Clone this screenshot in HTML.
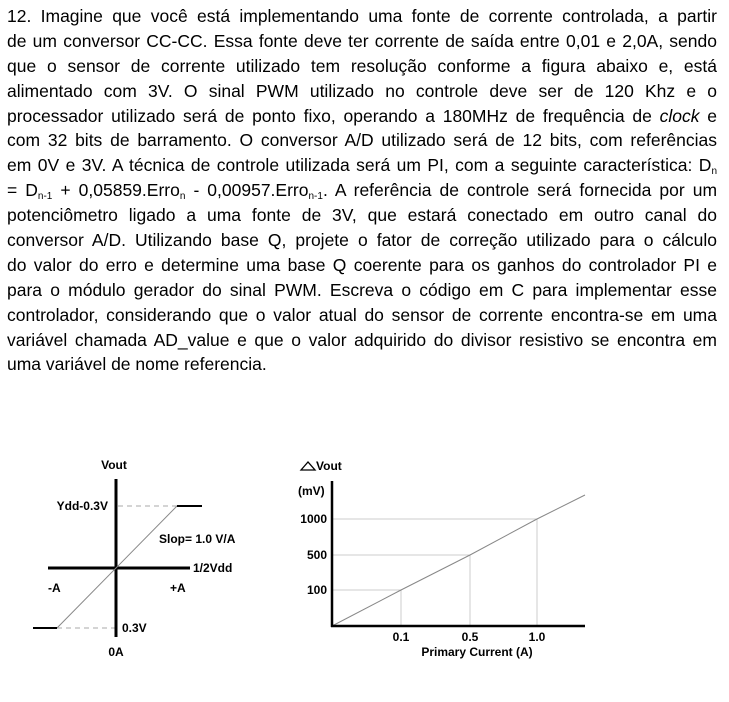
<!DOCTYPE html>
<html><head><meta charset="utf-8"><style>
body{margin:0;width:729px;height:702px;background:#fff;overflow:hidden;position:relative}
#q{position:absolute;left:7px;top:4px;width:710px;font-family:"Liberation Sans",sans-serif;font-size:17.5px;color:#000}
#q div{height:24.9px;line-height:24.9px;white-space:nowrap;text-align:justify;text-align-last:justify}
#q div.l{text-align-last:left}
sub{font-size:10px;vertical-align:-3px;line-height:0}
svg{position:absolute;left:0;top:0}
svg text{font-family:"Liberation Sans Narrow","Liberation Sans",sans-serif;font-weight:bold;font-size:12px}
</style></head><body>
<div id="q">
<div>12. Imagine que você está implementando uma fonte de corrente controlada, a partir</div>
<div>de um conversor CC-CC. Essa fonte deve ter corrente de saída entre 0,01 e 2,0A, sendo</div>
<div>que o sensor de corrente utilizado tem resolução conforme a figura abaixo e, está</div>
<div>alimentado com 3V. O sinal PWM utilizado no controle deve ser de 120 Khz e o</div>
<div>processador utilizado será de ponto fixo, operando a 180MHz de frequência de <i>clock</i> e</div>
<div>com 32 bits de barramento. O conversor A/D utilizado será de 12 bits, com referências</div>
<div>em 0V e 3V. A técnica de controle utilizada será um PI, com a seguinte característica: D<sub>n</sub></div>
<div>= D<sub>n-1</sub> + 0,05859.Erro<sub>n</sub> - 0,00957.Erro<sub>n-1</sub>. A referência de controle será fornecida por um</div>
<div>potenciômetro ligado a uma fonte de 3V, que estará conectado em outro canal do</div>
<div>conversor A/D. Utilizando base Q, projete o fator de correção utilizado para o cálculo</div>
<div>do valor do erro e determine uma base Q coerente para os ganhos do controlador PI e</div>
<div>para o módulo gerador do sinal PWM. Escreva o código em C para implementar esse</div>
<div>controlador, considerando que o valor atual do sensor de corrente encontra-se em uma</div>
<div>variável chamada AD_value e que o valor adquirido do divisor resistivo se encontra em</div>
<div class="l">uma variável de nome referencia.</div>
</div>
<svg width="729" height="702">
<g>
<line x1="118" y1="506" x2="177" y2="506" stroke="#aaa" stroke-dasharray="5,4"/>
<line x1="57" y1="628" x2="116" y2="628" stroke="#aaa" stroke-dasharray="5,4"/>
<line x1="116" y1="479" x2="116" y2="637" stroke="#000" stroke-width="3"/>
<line x1="48" y1="568" x2="190" y2="568" stroke="#000" stroke-width="3"/>
<line x1="57" y1="628" x2="177" y2="506" stroke="#888" stroke-width="1"/>
<line x1="177" y1="506" x2="202" y2="506" stroke="#000" stroke-width="2"/>
<line x1="33" y1="628" x2="57" y2="628" stroke="#000" stroke-width="2"/>
<text x="114" y="469" text-anchor="middle">Vout</text>
<text x="108" y="510" text-anchor="end">Ydd-0.3V</text>
<text x="159" y="543" font-size="11">Slop= 1.0 V/A</text>
<text x="193" y="572">1/2Vdd</text>
<text x="48" y="592">-A</text>
<text x="170" y="592">+A</text>
<text x="122" y="632">0.3V</text>
<text x="116" y="656" text-anchor="middle">0A</text>
</g>
<g id="chart"></g>
</svg>
<script>
const xTicks=[0.1,0.5,1.0];
const xTickLabels=["0.1","0.5","1.0"];
const yTicks=[100,500,1000];
const yTickLabels=["100","500","1000"];
const curX=[0,0.1,0.5,1.0,1.2];
const curY=[0,100,500,1000,1200];
// non-uniform axes in the reference: piecewise scales
function pw(dom,rng){return v=>{for(let i=0;i<dom.length-1;i++){if(v<=dom[i+1]||i==dom.length-2){const t=(v-dom[i])/(dom[i+1]-dom[i]);return rng[i]+t*(rng[i+1]-rng[i]);}}};}
const sx=pw([0,0.1,0.5,1.0],[332,401,470,537]);
const sy=pw([0,100,500,1000],[626,590,555,519]);
const NS="http://www.w3.org/2000/svg";
const g=document.getElementById('chart');
function mk(t,a){const e=document.createElementNS(NS,t);for(const k in a)e.setAttribute(k,a[k]);g.appendChild(e);return e;}
xTicks.forEach((v,i)=>{
 const gl=mk('line',{x1:sx(v),y1:sy(yTicks[i]),x2:sx(v),y2:626,stroke:'#ccc'});
 
 
 const t=mk('text',{x:sx(v),y:641,'text-anchor':'middle','font-size':'11'});t.textContent=xTickLabels[i];
 
 
});
yTicks.forEach((v,i)=>{
 const gl=mk('line',{x1:332,y1:sy(v),x2:sx(xTicks[i]),y2:sy(v),stroke:'#ccc'});
 
 
 const t=mk('text',{x:327,y:sy(v)+4,'text-anchor':'end','font-size':'11'});t.textContent=yTickLabels[i];
 
 
});
const pts=curX.map((v,i)=>{const x=v<=1?sx(v):537+(v-1)/(0.2)*48;const y=curY[i]<=1000?sy(curY[i]):519+(curY[i]-1000)/200*(-24);return x+','+y;}).join(' ');
const pl=mk('polyline',{points:pts,fill:'none',stroke:'#888','stroke-width':1});


const ya=mk('line',{x1:332,y1:481,x2:332,y2:627,stroke:'#000','stroke-width':2.5});


const xa=mk('line',{x1:331,y1:626,x2:585,y2:626,stroke:'#000','stroke-width':2.5});


const tri=mk('polygon',{points:'301,470 308,462 315,470',fill:'none',stroke:'#000','stroke-width':1.3});


const yt=mk('text',{x:316,y:470,'font-size':'13'});yt.textContent='Vout';


const yu=mk('text',{x:298,y:495,'font-size':'11'});yu.textContent='(mV)';


const xt=mk('text',{x:477,y:656,'text-anchor':'middle'});xt.textContent='Primary Current  (A)';


</script>
</body></html>
